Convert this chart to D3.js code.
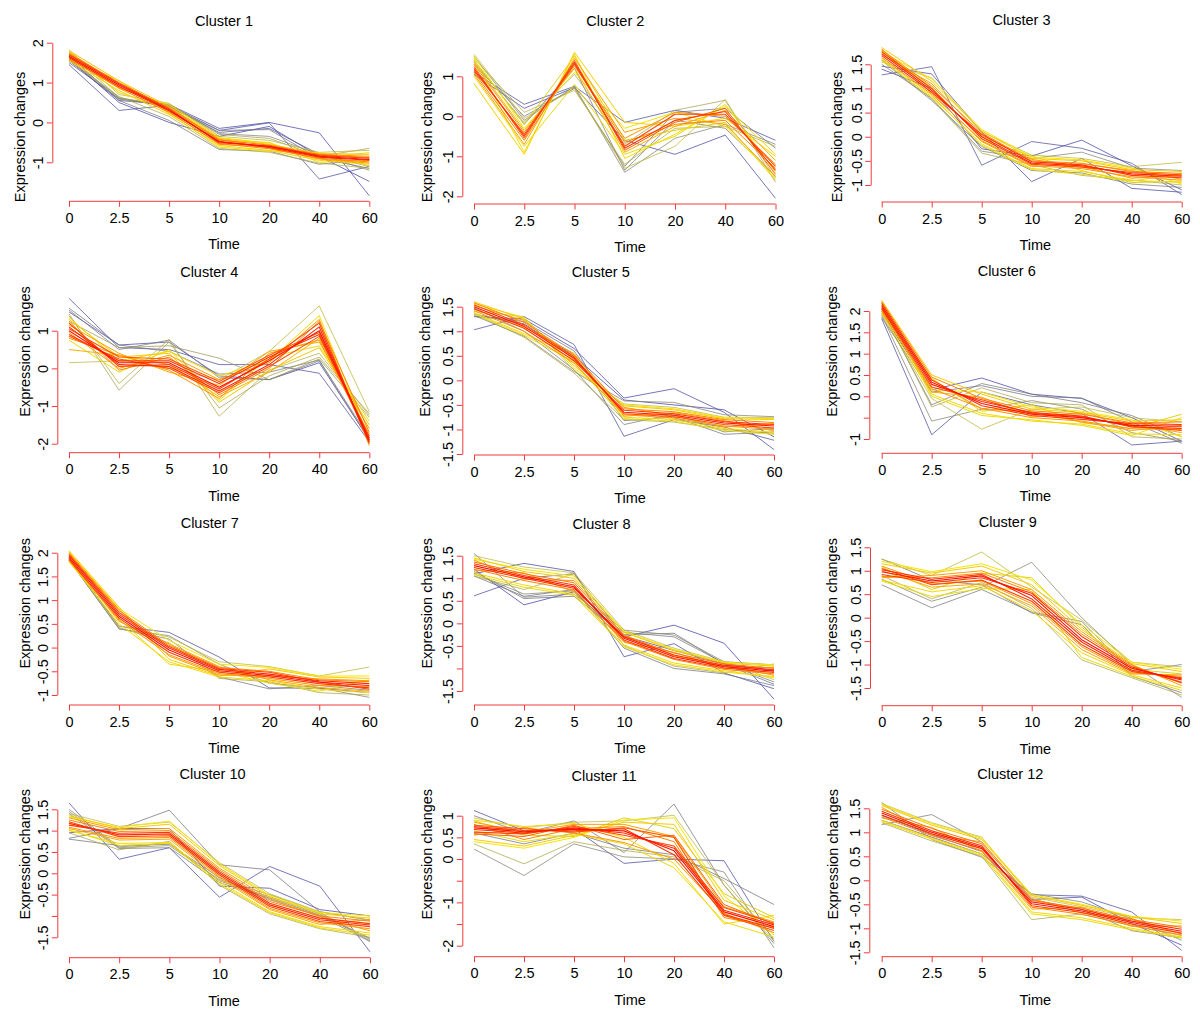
<!DOCTYPE html>
<html>
<head>
<meta charset="utf-8">
<script src="https://cdn.jsdelivr.net/npm/d3@7"></script>
<style>
  body { margin: 0; background: #fff; }
  svg text { font-family: "Liberation Sans", Arial, Helvetica, sans-serif; fill: #000; }
</style>
</head>
<body>
<svg id="chart" width="1200" height="1024"></svg>
<script>
// time points (x axis labels)
const timeLabels = ["0", "2.5", "5", "10", "20", "40", "60"];
const clusterTitles = ["Cluster 1", "Cluster 2", "Cluster 3", "Cluster 4", "Cluster 5", "Cluster 6",
  "Cluster 7", "Cluster 8", "Cluster 9", "Cluster 10", "Cluster 11", "Cluster 12"];

// each profile: [membership, value at 0, 2.5, 5, 10, 20, 40, 60]
const cluster1 = [
  [0.95, 1.66, 0.94, 0.31, -0.49, -0.60, -0.85, -0.93],
  [0.92, 1.63, 0.90, 0.29, -0.47, -0.63, -0.87, -0.95],
  [0.90, 1.70, 0.97, 0.34, -0.51, -0.59, -0.83, -0.90],
  [0.82, 1.72, 1.00, 0.36, -0.44, -0.57, -0.81, -0.88],
  [0.80, 1.60, 0.86, 0.25, -0.53, -0.66, -0.90, -0.99],
  [0.78, 1.75, 0.98, 0.27, -0.55, -0.62, -0.80, -0.85],
  [0.76, 1.58, 0.88, 0.38, -0.42, -0.64, -0.92, -1.02],
  [0.68, 1.80, 1.04, 0.40, -0.40, -0.55, -0.78, -0.80],
  [0.65, 1.55, 0.80, 0.20, -0.58, -0.70, -0.95, -1.05],
  [0.62, 1.78, 0.85, 0.45, -0.38, -0.52, -0.88, -0.76],
  [0.60, 1.62, 1.05, 0.22, -0.62, -0.72, -0.76, -1.10],
  [0.58, 1.70, 0.75, 0.33, -0.45, -0.50, -1.00, -0.95],
  [0.50, 1.82, 0.70, 0.48, -0.35, -0.45, -0.75, -0.70],
  [0.48, 1.55, 0.65, 0.15, -0.65, -0.75, -1.02, -1.15],
  [0.46, 1.75, 0.62, 0.42, -0.30, -0.40, -0.85, -0.65],
  [0.40, 1.58, 0.58, 0.45, -0.28, -0.35, -0.80, -1.20],
  [0.38, 1.68, 0.55, 0.05, -0.68, -0.72, -1.05, -0.92],
  [0.36, 1.60, 0.62, 0.38, -0.20, -0.18, -0.90, -1.15],
  [0.22, 1.50, 0.60, 0.40, -0.25, -0.15, -0.80, -1.10],
  [0.18, 1.45, 0.30, 0.43, -0.20, -0.01, -1.42, -1.10],
  [0.15, 1.55, 0.55, 0.45, -0.15, 0.00, -0.26, -1.84],
  [0.12, 1.60, 0.50, 0.00, -0.35, -0.10, -0.85, -1.48]
];
const cluster2 = [
  [0.90, 1.20, -0.50, 1.35, -0.80, -0.10, 0.12, -1.35],
  [0.88, 1.15, -0.45, 1.30, -0.75, 0.05, 0.05, -1.25],
  [0.85, 1.25, -0.55, 1.40, -0.85, -0.15, 0.20, -1.45],
  [0.80, 1.10, -0.60, 1.32, -0.65, -0.20, -0.10, -1.30],
  [0.78, 1.30, -0.40, 1.25, -0.55, 0.10, 0.00, -1.20],
  [0.75, 1.05, -0.70, 1.45, -0.40, -0.05, -0.20, -1.50],
  [0.72, 1.35, -0.35, 1.20, -0.90, -0.25, 0.15, -1.10],
  [0.65, 0.82, -0.95, 1.60, -0.15, -0.25, -0.05, -1.00],
  [0.62, 1.45, -0.90, 1.55, -1.05, -0.45, 0.25, -0.95],
  [0.60, 1.50, -0.30, 1.10, -0.30, 0.10, -0.25, -1.55],
  [0.58, 1.00, -0.75, 0.80, -0.95, -0.50, 0.30, -1.40],
  [0.56, 1.40, -0.20, 1.50, -0.60, -0.35, -0.15, -1.60],
  [0.50, 1.55, -0.05, 0.70, -1.30, -0.75, 0.42, -1.55],
  [0.48, 1.45, 0.10, 0.65, -1.20, -0.30, -0.25, -0.75],
  [0.46, 1.35, -0.15, 1.05, -0.70, 0.15, 0.40, -1.65],
  [0.40, 1.50, -0.10, 0.75, -1.40, -0.55, -0.20, -0.70],
  [0.38, 1.40, -0.20, 1.20, -1.35, -0.10, -0.30, -1.50],
  [0.36, 1.30, 0.00, 0.70, -1.25, 0.10, 0.20, -0.80],
  [0.18, 1.10, 0.30, 0.75, -0.15, 0.15, -0.05, -0.60],
  [0.15, 1.05, 0.20, 0.72, -0.60, -0.95, -0.47, -2.05]
];
const cluster3 = [
  [0.93, 1.72, 0.96, 0.00, -0.55, -0.60, -0.77, -0.82],
  [0.90, 1.68, 0.92, 0.05, -0.52, -0.58, -0.80, -0.85],
  [0.88, 1.76, 1.00, -0.04, -0.57, -0.63, -0.74, -0.79],
  [0.80, 1.80, 1.05, 0.08, -0.50, -0.55, -0.72, -0.76],
  [0.78, 1.64, 0.88, -0.08, -0.60, -0.66, -0.83, -0.90],
  [0.76, 1.70, 1.10, 0.02, -0.47, -0.62, -0.86, -0.80],
  [0.74, 1.82, 0.90, -0.10, -0.62, -0.56, -0.70, -0.88],
  [0.66, 1.85, 1.15, 0.12, -0.45, -0.50, -0.68, -0.72],
  [0.63, 1.58, 0.82, -0.15, -0.66, -0.72, -0.90, -0.95],
  [0.60, 1.75, 1.20, 0.15, -0.42, -0.48, -0.65, -0.98],
  [0.58, 1.62, 0.85, -0.18, -0.68, -0.78, -0.92, -0.75],
  [0.56, 1.78, 1.02, -0.05, -0.40, -0.70, -0.95, -0.92],
  [0.50, 1.55, 1.22, 0.10, -0.38, -0.45, -0.62, -0.53],
  [0.47, 1.60, 0.78, -0.34, -0.58, -0.80, -0.90, -1.00],
  [0.40, 1.50, 0.80, -0.30, -0.45, -0.32, -0.65, -0.70],
  [0.37, 1.58, 0.75, -0.20, -0.70, -0.75, -0.98, -1.05],
  [0.20, 1.28, 1.45, -0.59, -0.10, -0.24, -0.55, -1.20],
  [0.16, 1.46, 1.30, 0.10, -0.93, -0.45, -1.07, -1.15],
  [0.13, 1.40, 1.00, -0.25, -0.40, -0.07, -0.60, -1.10]
];
const cluster4 = [
  [0.95, 1.00, 0.15, 0.15, -0.50, 0.20, 1.00, -1.90],
  [0.92, 1.10, 0.10, 0.05, -0.60, 0.10, 1.10, -1.95],
  [0.90, 0.90, 0.20, 0.20, -0.40, 0.30, 0.90, -1.85],
  [0.88, 1.20, 0.05, 0.10, -0.55, 0.25, 1.20, -2.00],
  [0.87, 0.85, 0.25, 0.00, -0.65, 0.05, 0.85, -1.80],
  [0.86, 1.05, 0.30, 0.25, -0.35, 0.35, 0.95, -1.95],
  [0.80, 1.25, -0.05, 0.30, -0.70, 0.00, 1.25, -1.70],
  [0.78, 0.80, 0.35, -0.05, -0.80, 0.40, 0.75, -1.85],
  [0.76, 0.95, 0.00, 0.35, -0.30, 0.15, 1.30, -2.05],
  [0.74, 1.15, 0.40, -0.10, -0.45, 0.45, 0.70, -1.60],
  [0.72, 0.50, 0.35, 0.10, -0.75, -0.10, 0.80, -1.75],
  [0.66, 1.30, 0.30, 0.40, -0.90, -0.05, 0.55, -1.50],
  [0.62, 1.35, 0.20, 0.45, -0.20, 0.20, 1.40, -1.90],
  [0.58, 0.75, -0.10, 0.50, -0.85, 0.30, 0.60, -1.40],
  [0.50, 0.15, 0.20, 0.00, -0.30, 0.45, 1.66, -1.15],
  [0.48, 1.40, -0.40, 0.77, -1.27, -0.05, 0.40, -1.25],
  [0.46, 1.45, -0.58, 0.70, -1.05, -0.20, 0.30, -1.20],
  [0.44, 1.25, 0.55, 0.60, 0.27, -0.30, 0.25, -1.30],
  [0.38, 1.55, 0.50, 0.75, -0.25, -0.30, 0.20, -1.90],
  [0.35, 1.60, 0.62, 0.45, -0.15, -0.10, 0.22, -1.85],
  [0.18, 1.86, 0.55, 0.50, 0.10, 0.10, -0.13, -1.95],
  [0.14, 1.50, 0.62, 0.70, -0.20, -0.30, 0.15, -1.90]
];
const cluster5 = [
  [0.94, 1.50, 1.10, 0.45, -0.65, -0.71, -0.87, -0.93],
  [0.90, 1.46, 1.06, 0.40, -0.61, -0.68, -0.84, -0.90],
  [0.88, 1.54, 1.13, 0.48, -0.68, -0.74, -0.90, -0.97],
  [0.80, 1.58, 1.18, 0.52, -0.58, -0.64, -0.80, -0.86],
  [0.78, 1.42, 1.00, 0.35, -0.70, -0.77, -0.93, -1.00],
  [0.76, 1.52, 1.22, 0.42, -0.55, -0.72, -0.95, -0.88],
  [0.74, 1.45, 1.08, 0.55, -0.73, -0.66, -0.82, -1.03],
  [0.66, 1.60, 1.25, 0.30, -0.52, -0.60, -0.78, -0.80],
  [0.63, 1.38, 0.95, 0.50, -0.75, -0.80, -0.98, -1.06],
  [0.60, 1.56, 1.28, 0.25, -0.50, -0.58, -0.76, -0.78],
  [0.58, 1.36, 0.92, 0.38, -0.78, -0.83, -1.02, -1.10],
  [0.50, 1.40, 1.30, 0.20, -0.48, -0.55, -0.75, -0.76],
  [0.47, 1.35, 0.88, 0.15, -0.80, -0.85, -1.00, -1.08],
  [0.40, 1.32, 0.90, 0.18, -0.42, -0.45, -0.70, -0.74],
  [0.38, 1.48, 1.00, 0.22, -0.90, -0.68, -1.05, -0.98],
  [0.35, 1.30, 1.20, 0.60, -0.82, -0.75, -1.10, -1.05],
  [0.20, 1.03, 1.30, 0.73, -1.14, -0.80, -0.95, -1.22],
  [0.15, 1.30, 1.25, 0.65, -0.36, -0.17, -0.65, -1.41],
  [0.12, 1.35, 1.15, 0.50, -0.40, -0.50, -0.60, -1.15]
];
const cluster6 = [
  [0.95, 2.13, 0.33, -0.17, -0.42, -0.50, -0.68, -0.70],
  [0.92, 2.08, 0.28, -0.12, -0.38, -0.46, -0.72, -0.75],
  [0.90, 2.18, 0.38, -0.22, -0.45, -0.54, -0.64, -0.66],
  [0.88, 2.05, 0.22, -0.08, -0.40, -0.48, -0.70, -0.80],
  [0.80, 2.22, 0.45, -0.05, -0.34, -0.42, -0.62, -0.60],
  [0.78, 2.00, 0.18, -0.28, -0.50, -0.58, -0.76, -0.78],
  [0.76, 2.15, 0.40, -0.30, -0.36, -0.60, -0.80, -0.68],
  [0.74, 2.10, 0.10, -0.02, -0.48, -0.40, -0.66, -0.85],
  [0.66, 2.25, 0.50, 0.05, -0.30, -0.38, -0.58, -0.55],
  [0.63, 1.95, 0.05, -0.40, -0.58, -0.65, -0.88, -0.90],
  [0.60, 2.02, 0.15, 0.10, -0.25, -0.35, -0.55, -0.95],
  [0.58, 2.20, 0.00, -0.45, -0.55, -0.68, -0.92, -0.50],
  [0.56, 1.98, 0.42, -0.35, -0.20, -0.62, -0.75, -0.42],
  [0.50, 1.92, -0.05, -0.77, -0.30, -0.25, -0.50, -0.60],
  [0.47, 2.05, -0.25, 0.20, -0.15, -0.20, -0.95, -1.00],
  [0.40, 1.90, -0.58, -0.30, -0.10, -0.30, -0.85, -1.05],
  [0.37, 2.00, -0.20, 0.30, 0.05, -0.15, -0.45, -0.95],
  [0.34, 1.85, 0.10, 0.25, 0.00, -0.04, -0.60, -1.10],
  [0.18, 1.82, -0.90, 0.10, -0.20, -0.40, -1.14, -1.05],
  [0.14, 1.95, 0.15, 0.43, 0.05, -0.05, -0.50, -1.05]
];
const cluster7 = [
  [0.95, 1.90, 0.66, -0.05, -0.49, -0.59, -0.73, -0.80],
  [0.92, 1.94, 0.70, -0.01, -0.46, -0.56, -0.70, -0.76],
  [0.90, 1.86, 0.62, -0.10, -0.52, -0.62, -0.76, -0.85],
  [0.88, 1.96, 0.74, 0.02, -0.44, -0.52, -0.72, -0.88],
  [0.80, 1.98, 0.78, 0.05, -0.42, -0.50, -0.68, -0.72],
  [0.78, 1.84, 0.58, -0.15, -0.55, -0.65, -0.80, -0.82],
  [0.76, 2.00, 0.80, -0.18, -0.58, -0.60, -0.66, -0.70],
  [0.74, 1.88, 0.55, 0.08, -0.40, -0.68, -0.84, -0.92],
  [0.66, 2.04, 0.85, -0.25, -0.60, -0.45, -0.62, -0.65],
  [0.63, 1.82, 0.50, -0.30, -0.62, -0.70, -0.88, -0.95],
  [0.60, 2.02, 0.82, 0.15, -0.35, -0.42, -0.60, -0.60],
  [0.58, 1.80, 0.60, -0.35, -0.50, -0.75, -0.92, -0.68],
  [0.50, 1.86, 0.45, 0.22, -0.30, -0.40, -0.60, -0.41],
  [0.47, 1.90, 0.42, 0.10, -0.65, -0.72, -0.95, -1.00],
  [0.40, 1.85, 0.39, 0.25, -0.35, -0.75, -0.85, -1.05],
  [0.37, 1.84, 0.40, 0.18, -0.62, -0.87, -0.80, -0.90],
  [0.18, 1.88, 0.45, 0.32, -0.20, -0.85, -0.86, -0.95]
];
const cluster8 = [
  [0.95, 1.28, 1.03, 0.81, -0.33, -0.74, -0.96, -1.06],
  [0.92, 1.24, 1.00, 0.78, -0.30, -0.70, -0.93, -1.03],
  [0.90, 1.32, 1.06, 0.85, -0.37, -0.78, -0.99, -1.09],
  [0.82, 1.36, 1.10, 0.90, -0.28, -0.66, -0.90, -1.00],
  [0.80, 1.20, 0.95, 0.74, -0.40, -0.80, -1.02, -1.12],
  [0.77, 1.40, 0.98, 0.95, -0.25, -0.72, -0.94, -1.15],
  [0.75, 1.18, 1.12, 0.70, -0.42, -0.64, -1.00, -0.98],
  [0.66, 1.45, 1.15, 1.00, -0.20, -0.60, -0.88, -0.95],
  [0.63, 1.12, 0.85, 0.65, -0.48, -0.88, -1.05, -1.20],
  [0.60, 1.42, 1.20, 1.05, -0.18, -0.58, -0.86, -0.92],
  [0.58, 1.08, 0.80, 0.62, -0.52, -0.92, -1.08, -1.18],
  [0.50, 1.50, 1.25, 1.12, -0.15, -0.55, -0.85, -1.25],
  [0.47, 1.05, 0.75, 1.10, -0.50, -0.95, -1.10, -0.90],
  [0.40, 1.10, 0.65, 0.72, -0.15, -0.26, -0.85, -0.92],
  [0.38, 1.55, 0.58, 0.65, -0.20, -0.30, -0.88, -1.30],
  [0.35, 1.05, 0.60, 0.75, -0.55, -1.00, -1.12, -1.38],
  [0.33, 1.15, 0.55, 0.60, -0.25, -0.22, -0.90, -1.35],
  [0.18, 0.61, 1.00, 1.10, -0.28, -0.60, -0.90, -1.05],
  [0.15, 1.10, 1.33, 1.15, -0.74, -0.45, -1.10, -1.45],
  [0.12, 1.20, 0.41, 0.70, -0.30, -0.04, -0.44, -1.68]
];
const cluster9 = [
  [0.95, 0.98, 0.78, 0.89, 0.47, -0.47, -1.08, -1.33],
  [0.92, 1.02, 0.82, 0.92, 0.40, -0.52, -1.12, -1.30],
  [0.90, 0.92, 0.75, 0.85, 0.52, -0.40, -1.05, -1.38],
  [0.88, 1.05, 0.70, 0.80, 0.35, -0.58, -1.15, -1.28],
  [0.80, 0.88, 0.85, 0.95, 0.55, -0.35, -1.02, -1.40],
  [0.78, 1.10, 0.72, 0.78, 0.30, -0.62, -1.18, -1.25],
  [0.76, 0.85, 0.90, 1.00, 0.60, -0.30, -1.00, -1.45],
  [0.74, 1.00, 0.65, 0.72, 0.25, -0.68, -1.20, -1.22],
  [0.66, 1.15, 0.95, 1.10, 0.70, -0.25, -0.98, -1.15],
  [0.63, 0.80, 0.55, 0.68, 0.15, -0.75, -1.22, -1.50],
  [0.60, 1.20, 0.98, 1.15, 0.80, -0.15, -0.95, -1.10],
  [0.58, 0.78, 0.45, 0.62, 0.60, -0.85, -1.25, -1.55],
  [0.56, 1.08, 0.60, 0.95, 0.85, -0.20, -1.10, -1.20],
  [0.50, 1.25, 0.90, 1.40, 0.65, -0.05, -0.95, -1.05],
  [0.47, 0.90, 0.40, 0.75, 0.20, -0.90, -1.28, -1.65],
  [0.40, 0.82, 0.35, 0.65, 1.18, 0.00, -1.00, -1.70],
  [0.37, 0.70, 0.21, 0.60, 0.12, -0.08, -1.15, -1.00],
  [0.34, 1.25, 0.80, 0.70, 0.10, -0.15, -1.25, -1.60]
];
const cluster10 = [
  [0.92, 1.17, 0.90, 0.92, 0.00, -0.74, -1.09, -1.21],
  [0.90, 1.13, 0.94, 0.96, 0.04, -0.70, -1.05, -1.18],
  [0.88, 1.21, 0.86, 0.88, -0.04, -0.78, -1.13, -1.25],
  [0.80, 1.25, 0.98, 1.00, 0.08, -0.66, -1.00, -1.12],
  [0.78, 1.08, 0.82, 0.84, -0.08, -0.82, -1.16, -1.30],
  [0.76, 1.30, 1.02, 1.05, 0.12, -0.60, -1.02, -1.35],
  [0.74, 1.05, 0.78, 0.80, -0.12, -0.85, -1.20, -1.08],
  [0.66, 1.35, 1.05, 1.15, 0.18, -0.55, -0.95, -1.05],
  [0.63, 1.00, 0.70, 0.72, -0.20, -0.90, -1.25, -1.40],
  [0.60, 1.32, 1.08, 1.22, 0.22, -0.52, -0.92, -1.00],
  [0.58, 1.02, 0.65, 0.70, -0.25, -0.92, -1.28, -1.45],
  [0.50, 1.40, 1.10, 1.20, 0.25, -0.48, -0.90, -1.10],
  [0.47, 0.95, 0.55, 0.75, -0.28, -0.95, -1.30, -1.50],
  [0.42, 1.45, 0.60, 0.65, -0.15, -0.50, -0.92, -1.55],
  [0.40, 1.50, 0.62, 0.70, -0.18, -0.55, -0.95, -1.58],
  [0.38, 1.40, 0.58, 0.60, -0.22, -0.58, -0.98, -1.52],
  [0.36, 0.80, 0.65, 0.68, -0.10, -0.62, -1.00, -1.60],
  [0.34, 0.82, 1.05, 1.48, 0.20, 0.08, -0.90, -1.10],
  [0.16, 1.65, 0.33, 0.60, -0.56, 0.16, -0.30, -1.84],
  [0.13, 0.95, 1.05, 1.05, -0.30, -0.35, -0.85, -1.00]
];
const cluster11 = [
  [0.95, 0.72, 0.63, 0.69, 0.65, 0.19, -1.22, -1.56],
  [0.92, 0.68, 0.60, 0.72, 0.60, 0.25, -1.18, -1.52],
  [0.90, 0.75, 0.66, 0.65, 0.70, 0.10, -1.28, -1.60],
  [0.88, 0.62, 0.58, 0.75, 0.55, 0.30, -1.12, -1.48],
  [0.86, 0.78, 0.70, 0.62, 0.72, 0.50, -1.30, -1.65],
  [0.84, 0.58, 0.52, 0.78, 0.45, 0.55, -1.05, -1.50],
  [0.80, 0.80, 0.45, 0.70, 0.75, 0.40, -1.35, -1.58],
  [0.77, 0.55, 0.72, 0.60, 0.38, 0.00, -1.25, -1.70],
  [0.75, 0.85, 0.62, 0.80, 0.80, 0.52, -1.10, -1.45],
  [0.66, 0.45, 0.30, 0.55, 0.85, 0.80, -0.95, -1.40],
  [0.63, 0.90, 0.75, 0.82, 0.50, -0.10, -1.50, -1.30],
  [0.60, 0.40, 0.25, 0.50, 0.90, 0.95, -0.85, -1.75],
  [0.58, 0.65, 0.40, 0.58, 0.35, -0.20, -1.45, -1.80],
  [0.56, 0.88, 0.55, 0.52, 0.95, 0.70, -0.80, -1.35],
  [0.50, 0.95, 0.72, 0.85, 0.88, 1.01, -0.60, -1.90],
  [0.47, 0.35, -0.11, 0.40, 0.20, 0.05, -0.50, -1.85],
  [0.40, 0.23, -0.38, 0.35, 0.05, 0.00, -0.30, -2.05],
  [0.37, 1.00, 0.60, 0.88, 0.15, 1.27, -0.60, -1.95],
  [0.34, 0.60, 0.35, 0.60, 0.25, 0.10, -0.45, -1.05],
  [0.16, 1.12, 0.65, 0.70, -0.10, 0.00, -0.04, -1.90]
];
const cluster12 = [
  [0.95, 1.40, 1.00, 0.69, -0.49, -0.64, -0.88, -1.06],
  [0.92, 1.36, 0.97, 0.66, -0.45, -0.61, -0.85, -1.02],
  [0.90, 1.44, 1.03, 0.72, -0.53, -0.67, -0.91, -1.10],
  [0.82, 1.48, 1.08, 0.76, -0.42, -0.58, -0.82, -0.98],
  [0.80, 1.32, 0.93, 0.62, -0.56, -0.71, -0.94, -1.14],
  [0.77, 1.52, 0.95, 0.80, -0.38, -0.68, -0.80, -1.12],
  [0.75, 1.30, 1.10, 0.60, -0.60, -0.56, -0.96, -0.95],
  [0.66, 1.56, 1.15, 0.85, -0.32, -0.52, -0.76, -0.90],
  [0.63, 1.25, 0.88, 0.55, -0.66, -0.78, -1.00, -1.18],
  [0.60, 1.58, 1.18, 0.88, -0.30, -0.50, -0.75, -0.85],
  [0.58, 1.22, 0.86, 0.52, -0.70, -0.82, -1.03, -1.20],
  [0.50, 1.60, 1.20, 0.90, -0.35, -0.55, -0.78, -0.82],
  [0.47, 1.20, 0.82, 0.50, -0.82, -0.70, -0.95, -1.15],
  [0.40, 1.62, 0.85, 0.48, -0.28, -0.45, -0.80, -1.25],
  [0.37, 1.16, 1.37, 0.80, -0.40, -0.60, -1.05, -1.20],
  [0.18, 1.25, 0.90, 0.55, -0.30, -0.33, -0.66, -1.46],
  [0.14, 1.35, 0.95, 0.60, -0.40, -0.35, -0.90, -1.35]
];

// y axis ticks and the labels R managed to print (blank = dropped for overlap)
const yTicks = [
  [-1, 0, 1, 2],
  [-2, -1, 0, 1],
  [-1, -0.5, 0, 0.5, 1, 1.5],
  [-2, -1, 0, 1],
  [-1.5, -1, -0.5, 0, 0.5, 1, 1.5],
  [-1, -0.5, 0, 0.5, 1, 1.5, 2],
  [-1, -0.5, 0, 0.5, 1, 1.5, 2],
  [-1.5, -1, -0.5, 0, 0.5, 1, 1.5],
  [-1.5, -1, -0.5, 0, 0.5, 1, 1.5],
  [-1.5, -1, -0.5, 0, 0.5, 1, 1.5],
  [-2, -1.5, -1, -0.5, 0, 0.5, 1],
  [-1.5, -1, -0.5, 0, 0.5, 1, 1.5]
];
const yTickLabels = [
  ["-1", "0", "1", "2"],
  ["-2", "-1", "0", "1"],
  ["-1", "-0.5", "0", "0.5", "1", "1.5"],
  ["-2", "-1", "0", "1"],
  ["-1.5", "-1", "-0.5", "0", "0.5", "1", "1.5"],
  ["-1", "", "0", "0.5", "1", "1.5", "2"],
  ["-1", "-0.5", "0", "0.5", "1", "1.5", "2"],
  ["-1.5", "", "-0.5", "0", "0.5", "1", "1.5"],
  ["-1.5", "-1", "-0.5", "0", "0.5", "1", "1.5"],
  ["-1.5", "", "-0.5", "0", "0.5", "1", "1.5"],
  ["-2", "", "-1", "", "0", "0.5", "1"],
  ["-1.5", "-1", "-0.5", "0", "0.5", "1", "1.5"]
];

const clusters = [cluster1, cluster2, cluster3, cluster4, cluster5, cluster6,
  cluster7, cluster8, cluster9, cluster10, cluster11, cluster12];

// panel geometry (pixels): y axis x, x axis y, first/last time x, pixel of lowest/highest y tick
const layout = [
  { ax: 52.3, ay: 201.3, x0: 69, x1: 369.3, yLo: 162.3, yHi: 42.7, tx: 224, ty: 20.7, lx: 20 },
  { ax: 462.3, ay: 204, x0: 474, x1: 775.5, yLo: 196.3, yHi: 76.3, tx: 615.3, ty: 20.7, lx: 426.7 },
  { ax: 870.7, ay: 202, x0: 881.7, x1: 1181.7, yLo: 185, yHi: 64.3, tx: 1021.5, ty: 20, lx: 836.7 },
  { ax: 57.3, ay: 452.7, x0: 69, x1: 369.3, yLo: 443.7, yHi: 330.7, tx: 209.2, ty: 271.7, lx: 25 },
  { ax: 462.3, ay: 455, x0: 474, x1: 774, yLo: 454, yHi: 306.7, tx: 600.7, ty: 272.3, lx: 425 },
  { ax: 869.3, ay: 453.3, x0: 881.7, x1: 1181.7, yLo: 439, yHi: 311, tx: 1006.7, ty: 270.7, lx: 831.7 },
  { ax: 57.3, ay: 705, x0: 69, x1: 369.3, yLo: 695, yHi: 552.7, tx: 209.7, ty: 523.3, lx: 25 },
  { ax: 462.3, ay: 705, x0: 474, x1: 774, yLo: 691, yHi: 555.7, tx: 601.5, ty: 524, lx: 426.7 },
  { ax: 870, ay: 705.7, x0: 881.7, x1: 1181.7, yLo: 688, yHi: 547.3, tx: 1007.8, ty: 521.7, lx: 831.7 },
  { ax: 57.3, ay: 957.7, x0: 69, x1: 370, yLo: 937.3, yHi: 809.3, tx: 212.5, ty: 774, lx: 25 },
  { ax: 462.3, ay: 956.7, x0: 474, x1: 774, yLo: 945.7, yHi: 815.7, tx: 604, ty: 775.7, lx: 426.7 },
  { ax: 869.3, ay: 956.7, x0: 881.7, x1: 1181.7, yLo: 952.3, yHi: 808.3, tx: 1010.3, ty: 774, lx: 833.3 }
];
const ylabY = [137, 137, 137, 351.5, 351.5, 351.5, 603.3, 603.3, 603.3, 854.2, 854.2, 854.2];
const timeX = [224, 630, 1035.3];

// Mfuzz "fancy" palette: blue -> grey -> yellow -> orange -> red
const memColor = d3.scaleLinear()
  .domain([0, 0.38, 0.6, 0.78, 0.95, 1])
  .range(["#2828c0", "#7a7a7a", "#f5e600", "#ff9600", "#ff1000", "#e00000"])
  .interpolate(d3.interpolateRgb)
  .clamp(true);

// thin outliers, slightly heavier core
const memWidth = m => m > 0.85 ? 1.1 : (m > 0.55 ? 1.0 : 0.75);

const axisRed = "#ee3b3b";
const fontSize = 14.5;

const svg = d3.select("#chart");

clusters.forEach((profiles, i) => {
  const L = layout[i];
  const g = svg.append("g").attr("class", "panel");

  const x = d3.scalePoint().domain(timeLabels).range([L.x0, L.x1]);
  const ticks = yTicks[i];
  const y = d3.scaleLinear()
    .domain([ticks[0], ticks[ticks.length - 1]])
    .range([L.yLo, L.yHi]);

  const line = d3.line()
    .x((d, j) => x(timeLabels[j]))
    .y(d => y(d));

  // low membership first so red sits on top
  const sorted = profiles.slice().sort((a, b) => a[0] - b[0]);
  g.selectAll("path.profile")
    .data(sorted)
    .enter()
    .append("path")
    .attr("class", "profile")
    .attr("d", d => line(d.slice(1)))
    .attr("fill", "none")
    .attr("stroke", d => memColor(d[0]))
    .attr("stroke-width", d => memWidth(d[0]))
    .attr("stroke-linejoin", "round");

  // x axis
  const xAxis = g.append("g")
    .attr("transform", `translate(0,${L.ay})`)
    .call(d3.axisBottom(x).tickSizeInner(5.5).tickSizeOuter(0).tickPadding(6));
  xAxis.select(".domain").attr("stroke", axisRed).attr("d", `M${L.x0},0H${L.x1}`);
  xAxis.selectAll(".tick line").attr("stroke", axisRed);
  xAxis.selectAll(".tick text").attr("font-size", fontSize).attr("dy", "0.71em")
    .attr("font-family", null);

  // y axis
  const labels = yTickLabels[i];
  const yAxis = g.append("g")
    .attr("transform", `translate(${L.ax},0)`)
    .call(d3.axisLeft(y).tickValues(ticks).tickSizeInner(5.5).tickSizeOuter(0)
      .tickFormat((d, j) => labels[j]));
  yAxis.select(".domain").attr("stroke", axisRed);
  yAxis.selectAll(".tick line").attr("stroke", axisRed);
  yAxis.selectAll(".tick text")
    .attr("font-size", fontSize)
    .attr("font-family", null)
    .attr("x", null).attr("dy", null)
    .attr("text-anchor", "middle")
    .attr("dominant-baseline", "central")
    .attr("transform", "translate(-14,0) rotate(-90)");

  // title and axis titles
  g.append("text")
    .attr("x", L.tx).attr("y", L.ty)
    .attr("text-anchor", "middle").attr("dominant-baseline", "central")
    .attr("font-size", fontSize)
    .text(clusterTitles[i]);

  g.append("text")
    .attr("x", timeX[i % 3]).attr("y", L.ay + 43)
    .attr("text-anchor", "middle").attr("dominant-baseline", "central")
    .attr("font-size", fontSize)
    .text("Time");

  g.append("text")
    .attr("transform", `translate(${L.lx},${ylabY[i]}) rotate(-90)`)
    .attr("text-anchor", "middle").attr("dominant-baseline", "central")
    .attr("font-size", fontSize)
    .text("Expression changes");
});
</script>
</body>
</html>
